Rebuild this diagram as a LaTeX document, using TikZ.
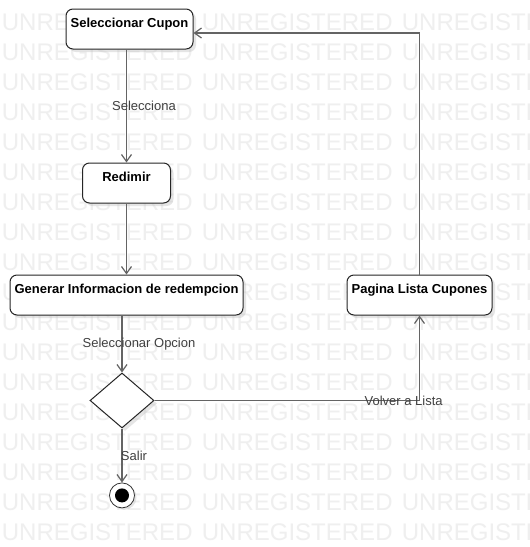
\documentclass[tikz,border=0pt]{standalone}
\usepackage{fontspec}
\setmainfont{Liberation Sans}
\usepackage{tikz}
\usetikzlibrary{shapes.geometric, arrows.meta, positioning, shadows}
\definecolor{linegray}{HTML}{646464}
\definecolor{wmgray}{HTML}{EFEFEF}
\tikzstyle{activity} = [rectangle, rounded corners=7pt, minimum height=40pt, text height=10pt, text depth=14pt, inner sep=0pt, text centered, draw=black!85, line width=1pt, fill=white, drop shadow={shadow xshift=3pt, shadow yshift=-3pt, fill=black!25, opacity=0.4}, font=\fontsize{13}{15}\selectfont\bfseries]
\tikzstyle{decision} = [diamond, minimum width=64pt, minimum height=55pt, inner sep=0pt, draw=black!85, line width=1pt, fill=white, drop shadow={shadow xshift=3pt, shadow yshift=-3pt, fill=black!25, opacity=0.4}]
\tikzstyle{final} = [circle, minimum size=25pt, inner sep=0pt, draw=black!80, line width=0.8pt, fill=white, drop shadow={shadow xshift=2pt, shadow yshift=-2pt, fill=black!25, opacity=0.4}, path picture={\fill[black] (path picture bounding box.center) circle (7pt);}]
\tikzstyle{flow} = [line width=1.2pt, draw=linegray, -{Straight Barb[length=7pt, width=10pt]}]
\tikzstyle{guard} = [inner sep=0pt, text=black!75, font=\fontsize{13}{15}\selectfont]
\tikzstyle{wmark} = [anchor=base west, inner sep=0pt, text=wmgray, font=\fontsize{24}{28}\selectfont]

\begin{document}
\begin{tikzpicture}[x=1pt, y=-1pt]
    \useasboundingbox[fill=white] (0,0) rectangle (530,547);
    \begin{scope}
        \clip (0,0) rectangle (530,547);
        \foreach \r in {0,...,17}
            \foreach \c in {0,1,2}
                \node[wmark] (wm-\r-\c) at (1.7+200*\c, 30+30*\r) {UNREGISTERED};
    \end{scope}

    \node[activity, minimum width=127pt] (cupon) at (129.5,29) {Seleccionar Cupon};
    \node[activity, minimum width=88pt, below=113pt of cupon, xshift=-3pt] (redimir) {Redimir};
    \node[activity, minimum width=233pt, below=71pt of redimir] (generar) {Generar Informacion de redempcion};
    \node[decision, below=57pt of generar, xshift=-4.5pt] (opcion) {};
    \node[final, below=54pt of opcion] (fin) {};
    \node[activity, minimum width=145pt, right=103pt of generar] (pagina) {Pagina Lista Cupones};

    \draw[flow] (cupon.south -| redimir) -- node[guard, midway, xshift=17.5pt] (lblsel) {Selecciona} (redimir);
    \draw[flow] (redimir) -- (generar);
    \draw[flow] (generar.south -| opcion) -- node[guard, midway, xshift=17pt] (lblopc) {Seleccionar Opcion} (opcion);
    \draw[flow] (opcion) -- node[guard, midway, xshift=12pt] (lblsalir) {Salir} (fin);
    \draw[flow] (opcion.east) -| node[guard, pos=0.47] (lblvolver) {Volver a Lista} (pagina.south);
    \draw[flow] (pagina.north) |- ([yshift=-4pt]cupon.east);
\end{tikzpicture}
\end{document}
